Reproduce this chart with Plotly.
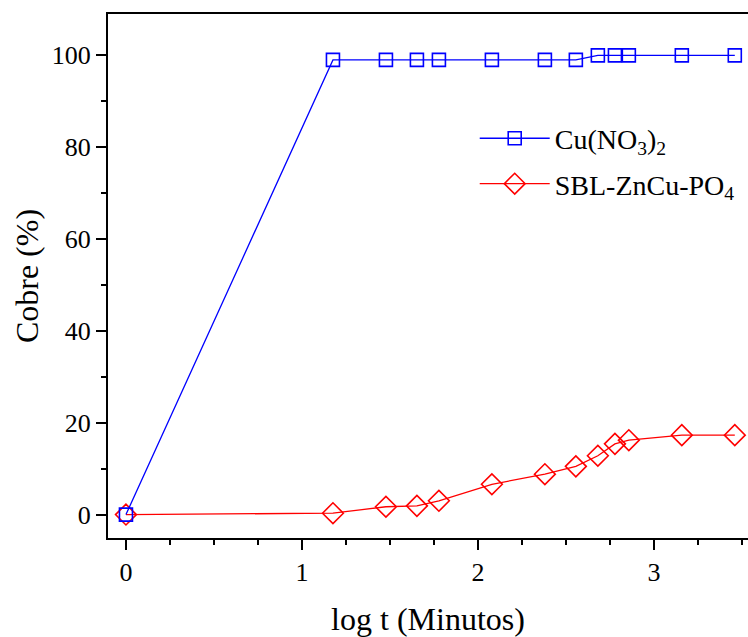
import plotly.graph_objects as go

log_t = [0, 1.176, 1.477, 1.653, 1.778, 2.079, 2.380, 2.556, 2.681, 2.778, 2.857, 3.158, 3.459]
cu_no3 = [0, 99, 99, 99, 99, 99, 99, 99, 100, 100, 100, 100, 100]
sbl = [0, 0.3, 1.7, 1.9, 3.0, 6.6, 8.8, 10.5, 12.8, 15.4, 16.2, 17.3, 17.3]

FONT = "Liberation Serif, Times New Roman, serif"

fig = go.Figure()
fig.add_trace(go.Scatter(
    x=log_t, y=sbl, mode="lines+markers", name="SBL-ZnCu-PO<sub>4</sub>",
    line=dict(color="#ff0000", width=1.3),
    marker=dict(symbol="diamond-open", size=16, color="#ff0000", line=dict(width=1.6, color="#ff0000")),
    legendgroup="b", legendrank=2,
))
fig.add_trace(go.Scatter(
    x=log_t, y=cu_no3, mode="lines+markers", name="Cu(NO<sub>3</sub>)<sub>2</sub>",
    line=dict(color="#0000ff", width=1.3),
    marker=dict(symbol="square-open", size=13, color="#0000ff", line=dict(width=1.6, color="#0000ff")),
    legendgroup="a", legendrank=1,
))

fig.update_layout(
    width=748, height=637,
    margin=dict(l=108, r=0, t=14, b=99),
    paper_bgcolor="white", plot_bgcolor="white",
    font=dict(family=FONT, size=26, color="black"),
    showlegend=True,
    legend=dict(x=0.573, y=0.81, xanchor="left", yanchor="top",
                bgcolor="rgba(0,0,0,0)", font=dict(family=FONT, size=28),
                itemwidth=70, tracegroupgap=6, traceorder="grouped"),
)
fig.update_xaxes(
    range=[-0.102, 3.534], showgrid=False, zeroline=False, automargin=False,
    showline=True, linecolor="black", linewidth=2, mirror=True,
    ticks="outside", ticklen=10, tickwidth=2, tickcolor="black",
    tickvals=[0, 1, 2, 3], ticktext=["0", "1", "2", "3"],
    minor=dict(dtick=0.25, tick0=0, ticks="outside", ticklen=5, tickwidth=2, tickcolor="black"),
    tickfont=dict(family=FONT, size=26),
    title=dict(text="log t (Minutos)", font=dict(family=FONT, size=32), standoff=30),
)
fig.update_yaxes(
    range=[-5.1, 109], showgrid=False, zeroline=False, automargin=False,
    showline=True, linecolor="black", linewidth=2, mirror=False,
    ticks="outside", ticklen=10, tickwidth=2, tickcolor="black",
    tickvals=[0, 20, 40, 60, 80, 100],
    minor=dict(dtick=10, tick0=0, ticks="outside", ticklen=5, tickwidth=2, tickcolor="black"),
    tickfont=dict(family=FONT, size=26),
    title=dict(text="Cobre (%)", font=dict(family=FONT, size=32), standoff=4),
)
fig.write_html("out.html")
